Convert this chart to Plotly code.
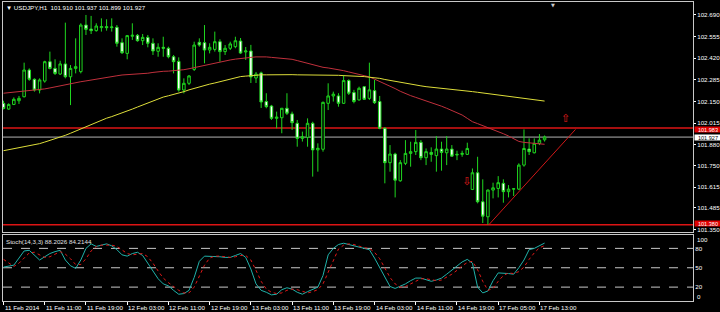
import plotly.graph_objects as go

# ---------------- data ----------------
bars = list(range(106))

opens = [102.138, 102.102, 102.131, 102.154, 102.179, 102.346, 102.288, 102.221, 102.277, 102.398,
         102.356, 102.321, 102.384, 102.304, 102.356, 102.336, 102.627, 102.602, 102.592, 102.611,
         102.617, 102.611, 102.613, 102.517, 102.450, 102.557, 102.563, 102.529, 102.550, 102.513,
         102.463, 102.488, 102.482, 102.429, 102.400, 102.221, 102.263, 102.350, 102.519, 102.517,
         102.471, 102.475, 102.523, 102.461, 102.482, 102.492, 102.527, 102.459, 102.465, 102.296,
         102.328, 102.149, 102.121, 102.044, 102.048, 102.107, 102.072, 102.013, 101.919, 101.925,
         102.013, 101.847, 101.851, 102.138, 102.184, 102.184, 102.138, 102.280, 102.205, 102.159,
         102.242, 102.169, 102.217, 102.149, 101.982, 101.767, 101.821, 101.654, 101.763, 101.825,
         101.836, 101.894, 101.798, 101.831, 101.811, 101.852, 101.829, 101.852, 101.815, 101.819,
         101.819, 101.600, 101.704, 101.523, 101.429, 101.596, 101.606, 101.638, 101.586, 101.602,
         101.602, 101.752, 101.852, 101.829, 101.888, 101.910]
highs = [102.154, 102.138, 102.175, 102.184, 102.392, 102.356, 102.294, 102.294, 102.404, 102.461,
         102.413, 102.404, 102.642, 102.377, 102.544, 102.638, 102.690, 102.684, 102.638, 102.669,
         102.663, 102.669, 102.627, 102.544, 102.565, 102.638, 102.571, 102.571, 102.565, 102.544,
         102.513, 102.554, 102.492, 102.440, 102.425, 102.294, 102.315, 102.523, 102.544, 102.627,
         102.513, 102.586, 102.538, 102.502, 102.523, 102.554, 102.546, 102.490, 102.503, 102.334,
         102.336, 102.201, 102.128, 102.086, 102.109, 102.201, 102.086, 102.034, 101.961, 102.044,
         102.023, 101.888, 102.149, 102.263, 102.211, 102.201, 102.315, 102.288, 102.222, 102.242,
         102.246, 102.392, 102.284, 102.184, 101.988, 101.877, 101.829, 101.783, 101.908, 101.898,
         101.971, 101.908, 101.856, 101.863, 101.933, 101.898, 101.933, 101.877, 101.842, 101.842,
         101.892, 101.731, 101.804, 101.663, 101.600, 101.642, 101.683, 101.663, 101.627, 101.607,
         101.763, 101.975, 101.919, 101.919, 101.946, 101.937]
lows = [102.100, 102.098, 102.127, 102.134, 102.175, 102.279, 102.211, 102.200, 102.267, 102.350,
        102.315, 102.315, 102.294, 102.127, 102.325, 102.325, 102.565, 102.571, 102.586, 102.586,
        102.592, 102.586, 102.492, 102.446, 102.413, 102.534, 102.523, 102.502, 102.488, 102.440,
        102.429, 102.429, 102.419, 102.325, 102.211, 102.200, 102.252, 102.340, 102.492, 102.388,
        102.450, 102.461, 102.398, 102.440, 102.471, 102.482, 102.446, 102.409, 102.265, 102.265,
        102.109, 102.107, 102.034, 101.982, 101.951, 102.065, 101.972, 101.867, 101.899, 101.867,
        101.680, 101.711, 101.836, 102.096, 102.149, 102.117, 102.134, 102.190, 102.138, 102.155,
        102.159, 102.159, 102.134, 101.976, 101.638, 101.711, 101.550, 101.648, 101.752, 101.742,
        101.815, 101.783, 101.752, 101.773, 101.711, 101.717, 101.752, 101.804, 101.783, 101.804,
        101.815, 101.596, 101.513, 101.390, 101.380, 101.544, 101.550, 101.517, 101.550, 101.559,
        101.596, 101.742, 101.815, 101.825, 101.877, 101.899]
closes = [102.106, 102.131, 102.163, 102.169, 102.346, 102.288, 102.221, 102.284, 102.398, 102.356,
          102.325, 102.384, 102.304, 102.356, 102.367, 102.627, 102.600, 102.592, 102.621, 102.617,
          102.611, 102.615, 102.513, 102.454, 102.561, 102.563, 102.529, 102.550, 102.513, 102.465,
          102.488, 102.482, 102.429, 102.398, 102.221, 102.263, 102.309, 102.502, 102.502, 102.471,
          102.488, 102.523, 102.461, 102.482, 102.509, 102.529, 102.452, 102.465, 102.303, 102.321,
          102.146, 102.117, 102.044, 102.052, 102.107, 102.076, 102.017, 101.919, 101.930, 102.013,
          101.847, 101.857, 102.144, 102.184, 102.195, 102.138, 102.280, 102.201, 102.149, 102.232,
          102.163, 102.222, 102.142, 101.982, 101.767, 101.821, 101.658, 101.767, 101.825, 101.836,
          101.894, 101.798, 101.836, 101.819, 101.852, 101.831, 101.852, 101.808, 101.819, 101.825,
          101.856, 101.704, 101.523, 101.433, 101.596, 101.610, 101.642, 101.586, 101.602, 101.604,
          101.752, 101.856, 101.836, 101.888, 101.908, 101.927]

ma_red = [102.201, 102.204, 102.206, 102.209, 102.212, 102.215, 102.218, 102.221, 102.228, 102.234,
          102.241, 102.247, 102.254, 102.261, 102.267, 102.273, 102.278, 102.284, 102.289, 102.294,
          102.300, 102.305, 102.310, 102.315, 102.317, 102.318, 102.320, 102.321, 102.326, 102.331,
          102.336, 102.338, 102.339, 102.341, 102.342, 102.348, 102.354, 102.361, 102.367, 102.375,
          102.383, 102.390, 102.398, 102.403, 102.409, 102.414, 102.419, 102.422, 102.425, 102.428,
          102.430, 102.428, 102.425, 102.422, 102.419, 102.416, 102.413, 102.405, 102.396, 102.388,
          102.380, 102.371, 102.363, 102.359, 102.354, 102.350, 102.342, 102.334, 102.326, 102.319,
          102.312, 102.303, 102.289, 102.275, 102.261, 102.246, 102.230, 102.213, 102.197, 102.186,
          102.175, 102.164, 102.155, 102.145, 102.134, 102.120, 102.107, 102.093, 102.079, 102.065,
          102.044, 102.023, 102.011, 101.999, 101.988, 101.976, 101.962, 101.948, 101.934, 101.918,
          101.900, 101.894, 101.890, 101.887, 101.884, 101.882]
ma_yellow = [101.842, 101.848, 101.854, 101.859, 101.865, 101.871, 101.877, 101.886, 101.896, 101.906,
             101.915, 101.925, 101.938, 101.951, 101.964, 101.977, 101.991, 102.005, 102.020, 102.034,
             102.045, 102.055, 102.066, 102.076, 102.089, 102.102, 102.115, 102.128, 102.142, 102.155,
             102.169, 102.177, 102.185, 102.193, 102.201, 102.211, 102.222, 102.232, 102.242, 102.250,
             102.258, 102.265, 102.273, 102.281, 102.289, 102.297, 102.305, 102.308, 102.312, 102.315,
             102.316, 102.316, 102.317, 102.317, 102.317, 102.317, 102.317, 102.316, 102.316, 102.316,
             102.315, 102.315, 102.315, 102.314, 102.314, 102.313, 102.311, 102.310, 102.308, 102.307,
             102.305, 102.301, 102.298, 102.294, 102.287, 102.281, 102.274, 102.267, 102.262, 102.257,
             102.252, 102.247, 102.242, 102.239, 102.236, 102.232, 102.229, 102.226, 102.222, 102.218,
             102.215, 102.211, 102.207, 102.203, 102.198, 102.194, 102.189, 102.185, 102.180, 102.176,
             102.172, 102.168, 102.164, 102.160, 102.156, 102.152]

stoch_k = [51, 52, 54, 65, 76, 77, 70, 62, 67, 72, 75, 77, 62, 53, 49, 62, 80, 87, 83, 85,
           87, 84, 78, 70, 68, 72, 74, 69, 57, 44, 33, 25, 22, 15, 9, 10, 15, 35, 60, 68,
           68, 68, 67, 66, 66, 69, 72, 66, 48, 25, 15, 12, 8, 9, 16, 19, 17, 12, 9, 13,
           16, 20, 38, 70, 80, 86, 88, 86, 83, 81, 80, 78, 65, 50, 35, 21, 18, 21, 25, 30,
           34, 34, 31, 29, 31, 34, 40, 46, 53, 59, 63, 57, 20, 11, 14, 30, 42, 42, 41, 40,
           50, 62, 78, 80, 84, 88.2026]
stoch_d = [63, 57, 52, 57, 65, 73, 74, 70, 66, 67, 71, 75, 71, 64, 55, 55, 64, 76, 83, 85,
           85, 85, 83, 77, 72, 70, 71, 72, 67, 57, 45, 34, 27, 21, 15, 11, 11, 20, 37, 54,
           65, 68, 68, 67, 66, 67, 69, 69, 62, 46, 29, 17, 12, 10, 11, 15, 17, 16, 13, 11,
           13, 16, 25, 43, 63, 79, 85, 87, 86, 83, 81, 80, 74, 64, 50, 35, 25, 20, 21, 25,
           30, 33, 33, 31, 30, 31, 35, 40, 46, 53, 58, 60, 47, 29, 15, 18, 29, 38, 42, 41,
           44, 51, 63, 73, 81, 84.2144]
stoch_levels = [80, 50, 20]

price_ticks = [102.690, 102.555, 102.420, 102.285, 102.150, 102.015, 101.880, 101.750, 101.615, 101.485, 101.350]
tick_bars = [0, 8, 16, 24, 32, 40, 48, 56, 64, 72, 80, 88, 96, 104]
tick_labels = ["11 Feb 2014", "11 Feb 11:00", "11 Feb 19:00", "12 Feb 03:00", "12 Feb 11:00",
               "12 Feb 19:00", "13 Feb 03:00", "13 Feb 11:00", "13 Feb 19:00", "14 Feb 03:00",
               "14 Feb 11:00", "14 Feb 19:00", "17 Feb 05:00", "17 Feb 13:00"]

red_levels = [101.983, 101.380]
bid_price = 101.927
trend_x = [94.2, 111.0]
trend_y = [101.380, 101.975]
arrow_down = (89.9, 101.646)
arrow_up = (109.1, 102.040)

# ---------------- styling ----------------
W, H = 720, 312
FONT = "Liberation Sans, Arial, sans-serif"
GREEN = "#1fd61f"
FRAME = "#c8c8c8"
FS = 6.2


def px(x):
    return x / W


def py(y):
    return 1 - y / H


fig = go.Figure()

fig.add_trace(go.Candlestick(
    x=bars, open=opens, high=highs, low=lows, close=closes,
    increasing=dict(line=dict(color=GREEN, width=1), fillcolor="#000000"),
    decreasing=dict(line=dict(color=GREEN, width=1), fillcolor="#ffffff"),
    whiskerwidth=0, hoverinfo="skip", xaxis="x", yaxis="y", showlegend=False))

fig.add_trace(go.Scatter(x=bars, y=ma_red, mode="lines", line=dict(color="#c0303c", width=1),
                         xaxis="x", yaxis="y", hoverinfo="skip", showlegend=False))
fig.add_trace(go.Scatter(x=bars, y=ma_yellow, mode="lines", line=dict(color="#dede3a", width=1),
                         xaxis="x", yaxis="y", hoverinfo="skip", showlegend=False))
fig.add_trace(go.Scatter(x=trend_x, y=trend_y, mode="lines", line=dict(color="#d01818", width=1),
                         xaxis="x", yaxis="y", hoverinfo="skip", showlegend=False))
fig.add_trace(go.Scatter(x=[arrow_down[0], arrow_up[0]], y=[arrow_down[1], arrow_up[1]],
                         mode="text", text=["\u21e9", "\u21e7"],
                         textfont=dict(family="DejaVu Sans", size=11, color="#e01c1c"),
                         xaxis="x", yaxis="y", hoverinfo="skip", showlegend=False))

fig.add_trace(go.Scatter(x=bars, y=stoch_k, mode="lines", line=dict(color="#20b2aa", width=1),
                         xaxis="x2", yaxis="y2", hoverinfo="skip", showlegend=False))
fig.add_trace(go.Scatter(x=bars, y=stoch_d, mode="lines", line=dict(color="#e01818", width=1, dash="dot"),
                         xaxis="x2", yaxis="y2", hoverinfo="skip", showlegend=False))

shapes = []
for lv in stoch_levels:
    shapes.append(dict(type="line", xref="x2 domain", x0=0, x1=1, yref="y2", y0=lv, y1=lv,
                       line=dict(color="#c8c8c8", width=1, dash="dash"), layer="below"))
for lv in red_levels:
    shapes.append(dict(type="line", xref="x domain", x0=0, x1=1, yref="y", y0=lv, y1=lv,
                       line=dict(color="#dd1414", width=1.5), layer="below"))
shapes.append(dict(type="line", xref="x domain", x0=0, x1=1, yref="y", y0=bid_price, y1=bid_price,
                   line=dict(color="#b4b4b4", width=1), layer="below"))

annotations = []
annotations.append(dict(xref="paper", yref="paper", x=px(4), y=py(2), xanchor="left", yanchor="top",
                        text="\u25bc USDJPY,H1  101.910 101.937 101.899 101.927", showarrow=False,
                        font=dict(family=FONT, size=FS, color="#ffffff")))
annotations.append(dict(xref="paper", yref="paper", x=px(4), y=py(235.5), xanchor="left", yanchor="top",
                        text="Stoch(14,3,3) 88.2026 84.2144", showarrow=False,
                        font=dict(family=FONT, size=FS, color="#e0e0e0")))
for b, lab in zip(tick_bars, tick_labels):
    annotations.append(dict(xref="x2", yref="paper", x=b, y=py(302), xanchor="left", yanchor="top",
                            text=lab, showarrow=False, xshift=-1,
                            font=dict(family=FONT, size=FS, color="#ffffff")))
for val, bg, fg, ys in [(red_levels[0], "#e00000", "#ffffff", -1), (bid_price, "#ffffff", "#000000", 0),
                        (red_levels[1], "#e00000", "#ffffff", 1)]:
    annotations.append(dict(xref="paper", yref="y", x=px(693.5), y=val, xanchor="left", yanchor="middle",
                            text=f"{val:.3f}", showarrow=False, bgcolor=bg, borderpad=0,
                            width=26, height=5, align="center", yshift=ys,
                            font=dict(family=FONT, size=5.6, color=fg)))
for val, shift in [(100, -4), (0, 4)]:
    annotations.append(dict(xref="paper", yref="y2", x=px(695), y=val, xanchor="left", yanchor="middle",
                            text=str(val), showarrow=False, yshift=shift,
                            font=dict(family=FONT, size=FS, color="#ffffff")))
annotations.append(dict(xref="paper", yref="paper", x=px(553), y=py(0), xanchor="center", yanchor="top",
                        text="\u25bc", showarrow=False,
                        font=dict(family="DejaVu Sans", size=5, color="#c8c8c8")))

axis_common = dict(showgrid=False, zeroline=False, showline=True, mirror=True, linecolor=FRAME, linewidth=1)
xr = [-0.1, 133.8]

fig.update_layout(
    width=W, height=H, margin=dict(l=0, r=0, t=0, b=0),
    paper_bgcolor="#000000", plot_bgcolor="#000000",
    showlegend=False, boxgap=0.3,
    xaxis=dict(domain=[px(3), px(693)], range=xr, anchor="y", showticklabels=False, ticks="",
               rangeslider=dict(visible=False), **axis_common),
    yaxis=dict(domain=[py(232), py(2)], range=[101.334, 102.771], anchor="x", side="right",
               tickvals=price_ticks, ticktext=[f"{v:.3f}" for v in price_ticks],
               ticks="outside", ticklen=2, tickcolor="#ffffff",
               tickfont=dict(family=FONT, size=FS, color="#ffffff"), **axis_common),
    xaxis2=dict(domain=[px(3), px(693)], range=xr, anchor="y2", matches="x",
                tickvals=tick_bars, ticks="outside", ticklen=3, tickcolor="#ffffff",
                showticklabels=False, **axis_common),
    yaxis2=dict(domain=[py(301), py(234.5)], range=[-1.5, 101.5], anchor="x2", side="right",
                tickvals=stoch_levels, ticktext=[str(v) for v in stoch_levels], ticks="",
                tickfont=dict(family=FONT, size=FS, color="#ffffff"), **axis_common),
    shapes=shapes, annotations=annotations,
)

fig.write_html("out.html")
